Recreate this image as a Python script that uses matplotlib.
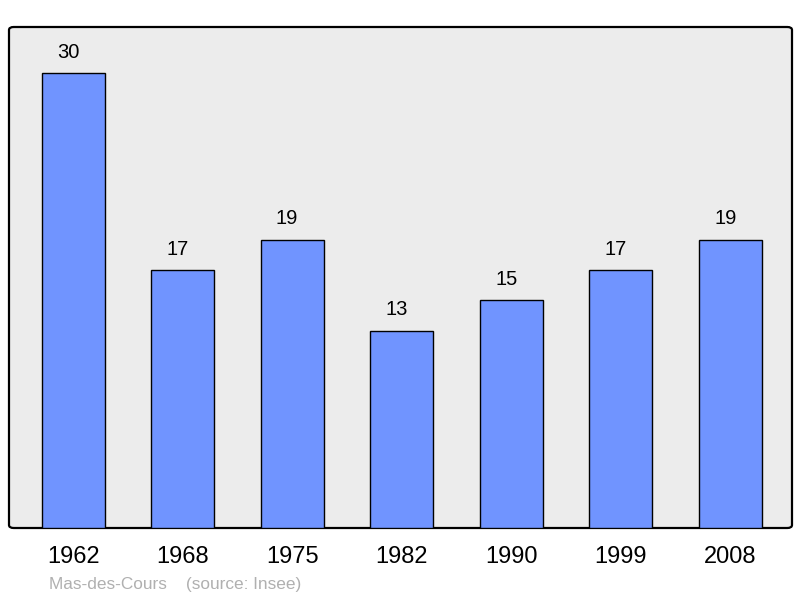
import matplotlib
matplotlib.use("Agg")
import matplotlib.pyplot as plt
from matplotlib.patches import FancyBboxPatch

# donnees
annees = ['1962', '1968', '1975', '1982', '1990', '1999', '2008']
population = [30, 17, 19, 13, 15, 17, 19]

plt.rcParams['font.family'] = ['Liberation Sans', 'DejaVu Sans']

fig = plt.figure(figsize=(8, 5.98), dpi=100)
ax = fig.add_axes([9 / 800, 1 - 528 / 598, 783 / 800, 501 / 598])
ax.set_facecolor('none')

# fond arrondi
fond = FancyBboxPatch((0, 0), 1, 1, boxstyle='round,pad=0,rounding_size=0.006',
                      transform=ax.transAxes, facecolor='#ececec',
                      edgecolor='black', linewidth=1.6, zorder=0, clip_on=False)
ax.add_patch(fond)

x = range(len(annees))
ax.bar(x, population, width=0.575, color='#7094ff', edgecolor='black', linewidth=1.0, zorder=2)

for i, v in zip(x, population):
    ax.text(i - 0.045, v + 0.75, str(v), ha='center', va='bottom', fontsize=14.5)

ax.set_xlim(-0.585, 6.565)
ax.set_ylim(0, 33.03)
for s in ax.spines.values():
    s.set_visible(False)
ax.set_yticks([])
ax.set_xticks(list(x))
ax.set_xticklabels(annees, fontsize=17)
ax.tick_params(axis='x', length=0, pad=13)

fig.text(49 / 800, 1 - 585 / 598, 'Mas-des-Cours    (source: Insee)', fontsize=12.4,
         color='#b0b0b0', va='center', ha='left')

fig.savefig('out.png', dpi=100)
